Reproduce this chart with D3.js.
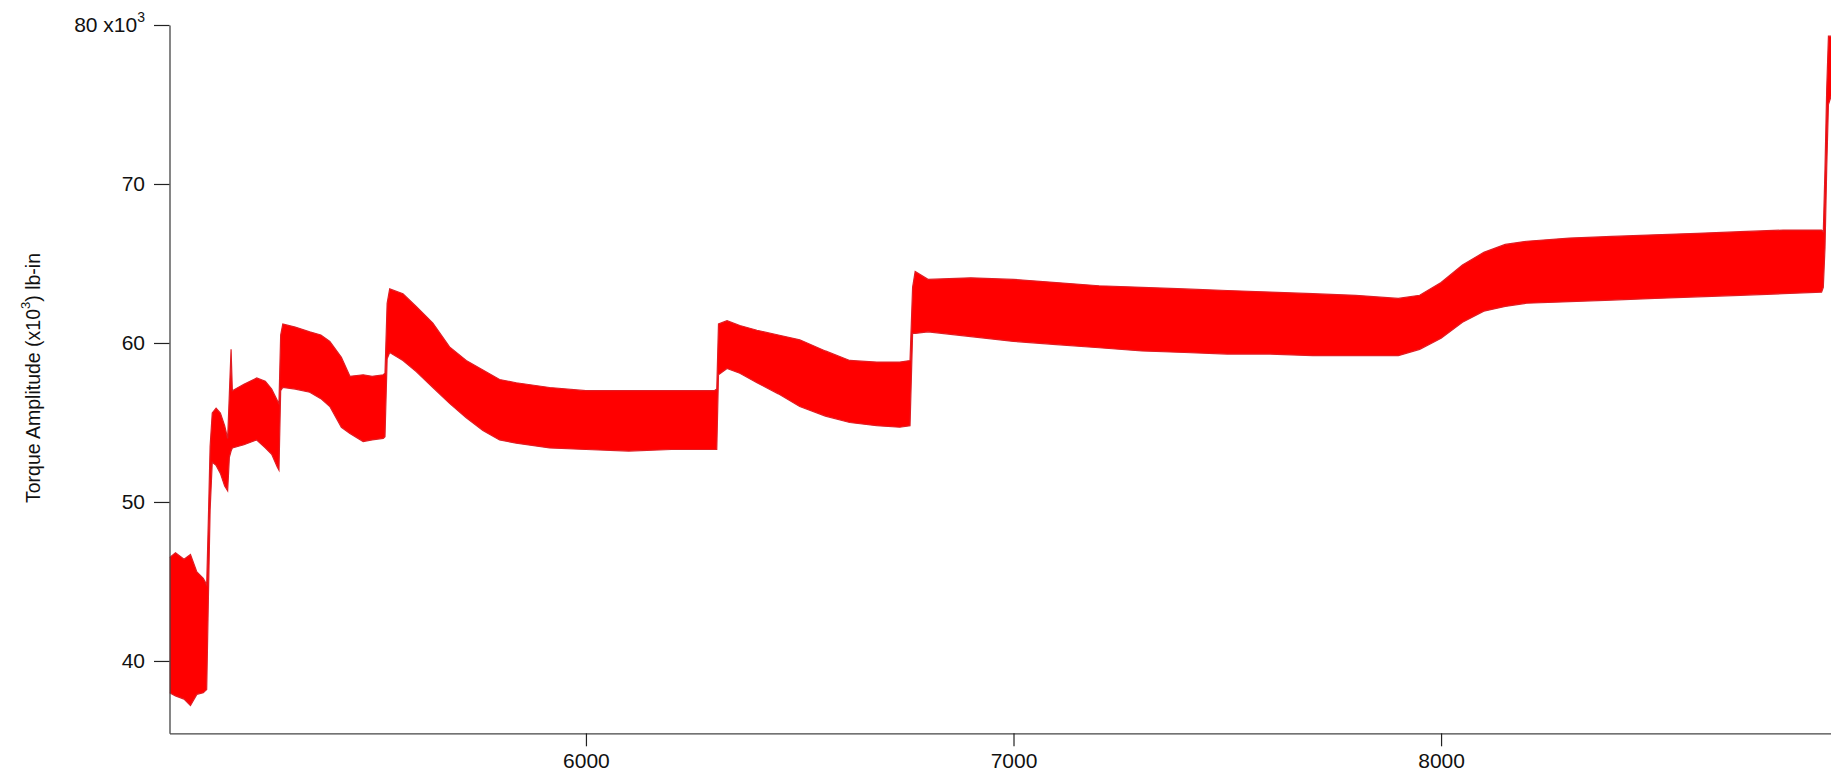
<!DOCTYPE html>
<html>
<head>
<meta charset="utf-8">
<script src="https://cdn.jsdelivr.net/npm/d3@7"></script>
<style>
  body { margin: 0; background: #fff; }
  svg { display: block; }
</style>
</head>
<body>
<script>
// Dimensions of the picture and of the plot frame
const SVG_DIM = { W: 1831, H: 772 };
const PLOT = { LEFT: 169.5, RIGHT: 1831, TOP: 25, BOTTOM: 733.3 };

// Axis ranges and ticks
const X_DOMAIN = [5026, 8912];
const Y_DOMAIN = [35.45, 80];
const X_TICKS = [6000, 7000, 8000];
const Y_TICKS = [40, 50, 60, 70, 80];

// Envelope of the torque signal (x10^3 lb-in)
const timeS = [
  5026, 5040, 5060, 5075, 5090, 5105, 5113,
  5117, 5121, 5126, 5135, 5145, 5155, 5162,
  5166, 5170, 5173, 5200, 5230, 5250, 5265, 5278, 5282,
  5286, 5291, 5320, 5354, 5380, 5401, 5428, 5448, 5479, 5500, 5526, 5530,
  5535, 5541, 5572, 5603, 5642, 5681, 5720, 5759, 5798, 5837, 5915,
  6000, 6100, 6200, 6300, 6306,
  6310, 6330, 6360, 6400, 6450, 6500, 6560, 6617, 6680, 6734, 6758,
  6764, 6770, 6800, 6900, 7000, 7100, 7200, 7300, 7400, 7500, 7600, 7700, 7800, 7900,
  7950, 8000, 8050, 8100, 8150, 8200, 8300, 8400, 8500, 8600, 8700, 8800, 8890,
  8894, 8898, 8902, 8906, 8912
];
const lowerK = [
  38.0, 37.8, 37.6, 37.2, 37.9, 38.0, 38.2,
  44.0, 49.5, 52.5, 52.3, 51.8, 51.0, 50.7,
  52.8, 53.2, 53.4, 53.6, 53.9, 53.4, 53.0, 52.2, 52.0,
  57.0, 57.2, 57.1, 56.9, 56.5, 56.0, 54.7, 54.3, 53.8, 53.9, 54.0, 54.1,
  59.0, 59.4, 58.9, 58.2, 57.2, 56.2, 55.3, 54.5, 53.9, 53.7, 53.4,
  53.3, 53.2, 53.3, 53.3, 53.3,
  58.0, 58.4, 58.1, 57.5, 56.8, 56.0, 55.4, 55.0, 54.8, 54.7, 54.8,
  60.6, 60.6, 60.7, 60.4, 60.1, 59.9, 59.7, 59.5, 59.4, 59.3, 59.3, 59.2, 59.2, 59.2,
  59.6, 60.3, 61.3, 62.0, 62.3, 62.5, 62.6, 62.7, 62.8, 62.9, 63.0, 63.1, 63.2,
  63.5, 66.0, 71.0, 75.0, 75.5
];
const upperK = [
  46.5, 46.8, 46.4, 46.7, 45.6, 45.2, 44.8,
  49.0, 53.5, 55.6, 55.9, 55.6, 54.8, 54.0,
  56.8, 59.6, 57.0, 57.4, 57.8, 57.6, 57.1, 56.4, 56.2,
  60.5, 61.2, 61.0, 60.7, 60.5, 60.1, 59.1, 57.9, 58.0, 57.9, 58.0, 58.1,
  62.5, 63.4, 63.1, 62.3, 61.25, 59.75, 58.9, 58.3, 57.7, 57.5, 57.2,
  57.0, 57.0, 57.0, 57.0, 57.1,
  61.2, 61.4, 61.1, 60.8, 60.5, 60.2, 59.5, 58.9, 58.8, 58.8, 58.9,
  63.5, 64.5, 64.0, 64.1, 64.0, 63.8, 63.6, 63.5, 63.4, 63.3, 63.2, 63.1, 63.0, 62.8,
  63.0, 63.8, 64.9, 65.7, 66.2, 66.4, 66.6, 66.7, 66.8, 66.9, 67.0, 67.1, 67.1,
  67.0, 71.0, 76.0, 79.3, 79.3
];

const FONT = "'Liberation Sans', Arial, Helvetica, sans-serif";

const svg = d3
  .select("body")
  .append("svg")
  .attr("width", SVG_DIM.W)
  .attr("height", SVG_DIM.H);

const x = d3.scaleLinear().domain(X_DOMAIN).range([PLOT.LEFT, PLOT.RIGHT]);
const y = d3.scaleLinear().domain(Y_DOMAIN).range([PLOT.BOTTOM, PLOT.TOP]);

// Clip the trace to the plot frame
svg
  .append("clipPath")
  .attr("id", "plot-clip")
  .append("rect")
  .attr("x", PLOT.LEFT)
  .attr("y", PLOT.TOP)
  .attr("width", PLOT.RIGHT - PLOT.LEFT)
  .attr("height", PLOT.BOTTOM - PLOT.TOP);

const points = timeS.map((t, i) => ({ t, lo: lowerK[i], hi: upperK[i] }));

const trace = svg.append("g").attr("clip-path", "url(#plot-clip)");

trace
  .append("path")
  .datum(points)
  .attr("fill", "#ff0000")
  .attr(
    "d",
    d3
      .area()
      .x((d) => x(d.t))
      .y0((d) => y(d.lo))
      .y1((d) => y(d.hi))
  );

// darker edge of the noisy band
["lo", "hi"].forEach((k) => {
  trace
    .append("path")
    .datum(points)
    .attr("fill", "none")
    .attr("stroke", "#e01e24")
    .attr("stroke-width", 1.2)
    .attr(
      "d",
      d3
        .line()
        .x((d) => x(d.t))
        .y((d) => y(d[k]))
    );
});

// Axes
const yAxis = svg
  .append("g")
  .attr("transform", `translate(${PLOT.LEFT},0)`)
  .call(
    d3
      .axisLeft(y)
      .tickValues(Y_TICKS)
      .tickSize(15.5)
      .tickSizeOuter(0)
      .tickPadding(9)
      .tickFormat((d) => d)
  );

const xAxis = svg
  .append("g")
  .attr("transform", `translate(0,${PLOT.BOTTOM})`)
  .call(
    d3
      .axisBottom(x)
      .tickValues(X_TICKS)
      .tickSize(13)
      .tickSizeOuter(0)
      .tickPadding(6.3)
      .tickFormat((d) => d)
  );

[xAxis, yAxis].forEach((g) => {
  g.attr("font-family", FONT).attr("font-size", 21);
  g.select(".domain").attr("stroke", "#444").attr("stroke-width", 1.3);
  g.selectAll(".tick line").attr("stroke", "#222").attr("stroke-width", 1.2);
  g.selectAll(".tick text").attr("fill", "#111");
});

// top label carries the exponent
yAxis
  .selectAll(".tick text")
  .filter((d) => d === 80)
  .text("80 x10")
  .append("tspan")
  .attr("font-size", 14)
  .attr("dy", "-0.75em")
  .text("3");

// Y axis title
const yTitle = svg
  .append("text")
  .attr("transform", "translate(40,378) rotate(-90)")
  .attr("text-anchor", "middle")
  .attr("font-family", FONT)
  .attr("font-size", 19.5)
  .attr("fill", "#111");

yTitle.append("tspan").text("Torque Amplitude (x10");
yTitle.append("tspan").attr("font-size", 13).attr("dy", "-0.75em").text("3");
yTitle.append("tspan").attr("dy", "0.5em").text(") lb-in");
</script>
</body>
</html>
